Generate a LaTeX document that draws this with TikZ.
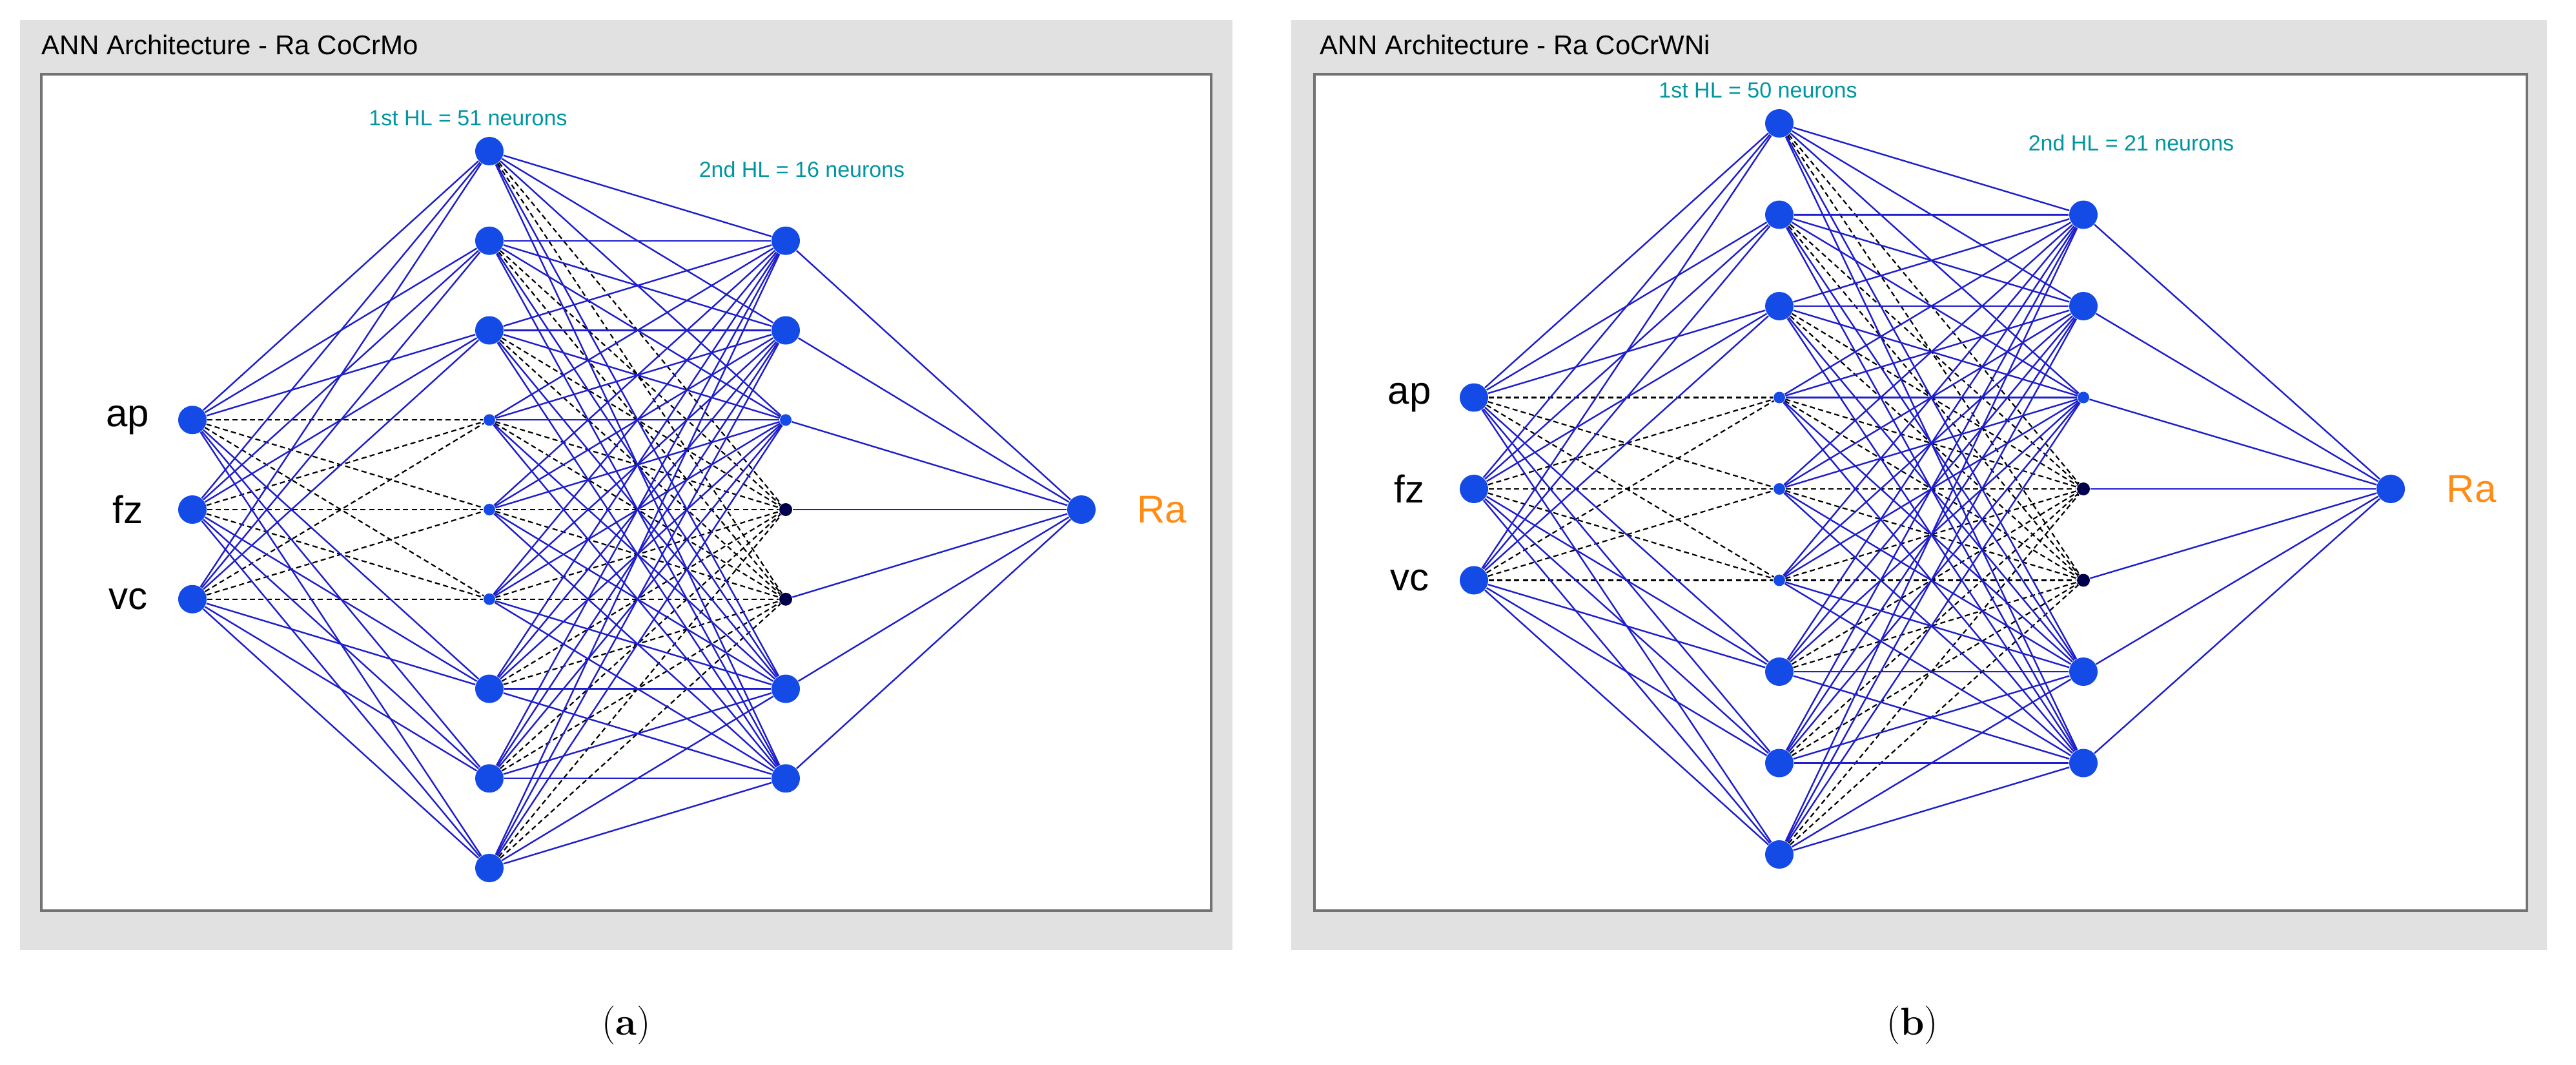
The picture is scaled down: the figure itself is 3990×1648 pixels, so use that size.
\documentclass[tikz,border=0pt]{standalone}
\usepackage{fontspec}
\setmainfont{Latin Modern Roman}
\newfontfamily\sans{Liberation Sans}
\begin{document}
\definecolor{panelgray}{RGB}{225,225,225}
\definecolor{nblue}{RGB}{20,75,230}
\definecolor{eblue}{RGB}{30,30,205}
\definecolor{hlcol}{RGB}{0,150,160}
\definecolor{racol}{RGB}{255,140,20}
\tikzset{
 big/.style={circle,fill=nblue,inner sep=0pt,minimum size=11pt},
 small/.style={circle,fill=nblue,inner sep=0pt,minimum size=4.5pt},
 dark/.style={circle,fill=black!70!blue,inner sep=0pt,minimum size=5pt},
 bl/.style={draw=eblue,line width=0.6pt},
 dsh/.style={draw=black,line width=0.55pt,dash pattern=on 2pt off 1.3pt},
 ttl/.style={font=\sans\fontsize{10.5}{13}\selectfont,anchor=west,inner sep=0pt},
 inl/.style={font=\sans\fontsize{15}{17}\selectfont,inner sep=0pt},
 hl/.style={font=\sans\fontsize{8.5}{10}\selectfont,text=hlcol,inner sep=0pt},
 ral/.style={font=\sans\fontsize{15}{17}\selectfont,text=racol,inner sep=0pt},
 captxt/.style={font=\fontsize{15}{17}\selectfont,inner sep=0pt}
}
\newcommand\annpanel{%
 \fill[panelgray] (\gx,31) rectangle (\gxx,1471);
 \draw[line width=1.2pt,draw=black!55,fill=white] (\wx,115) rectangle (\wxx,1410);
 \node[ttl] (\p T) at (\tx,69) {\ttl};
 \foreach \i in {0,1,2,6,7,8} \node[big] (\p L\i) at (\xa,{\yt+\i*\ys}) {};
 \foreach \i in {3,4,5} \node[small] (\p L\i) at (\xa,{\yt+\i*\ys}) {};
 \foreach \i in {1,2,6,7} \node[big] (\p M\i) at (\xb,{\yt+\i*\ys}) {};
 \node[small] (\p M3) at (\xb,{\yt+3*\ys}) {};
 \foreach \i in {4,5} \node[dark] (\p M\i) at (\xb,{\yt+\i*\ys}) {};
 \foreach \j in {0,1,2} {\pgfmathtruncatemacro\k{\j+3}
   \node[big] (\p I\j) at (\xi,{\yt+\k*\ys}) {};}
 \node[big] (\p O) at (\xo,{\yt+4*\ys}) {};
 \foreach \j in {0,1,2} \foreach \i in {3,4,5} \draw[dsh] (\p I\j) -- (\p L\i);
 \foreach \i in {0,...,8} \foreach \m in {4,5} \draw[dsh] (\p L\i) -- (\p M\m);
 \foreach \j in {0,1,2} \foreach \i in {0,1,2,6,7,8} \draw[bl] (\p I\j) -- (\p L\i);
 \foreach \i in {0,...,8} \foreach \m in {1,2,3,6,7} \draw[bl] (\p L\i) -- (\p M\m);
 \foreach \m in {1,...,7} \draw[bl] (\p M\m) -- (\p O);
 \node[inl] (\p ap) at (\xi-100,{\yt+3*\ys}) {ap};
 \node[inl] (\p fz) at (\xi-100,{\yt+4*\ys}) {fz};
 \node[inl] (\p vc) at (\xi-100,{\yt+5*\ys}) {vc};
 \node[ral] (\p Ra) at (\xo+125,{\yt+4*\ys}) {Ra};
}
\begin{tikzpicture}[x=0.25pt,y=-0.25pt]
\useasboundingbox (0,0) rectangle (3990,1648);
\fill[white] (0,0) rectangle (3990,1648);
% panel a
\def\p{a}\def\gx{31}\def\gxx{1909}\def\wx{64}\def\wxx{1876}\def\tx{64}
\def\ttl{ANN Architecture - Ra CoCrMo}
\def\xi{298}\def\xa{758}\def\xb{1217}\def\xo{1675}\def\yt{234}\def\ys{138.75}
\annpanel
\node[hl] (ah1) at (725,183) {1st HL = 51 neurons};
\node[hl] (ah2) at (1242,262) {2nd HL = 16 neurons};
% panel b
\def\p{b}\def\gx{2000}\def\gxx{3945}\def\wx{2036}\def\wxx{3914}\def\tx{2044}
\def\ttl{ANN Architecture - Ra CoCrWNi}
\def\xi{2283}\def\xa{2756}\def\xb{3227}\def\xo{3703}\def\yt{191}\def\ys{141.5}
\annpanel
\node[hl] (bh1) at (2723,140) {1st HL = 50 neurons};
\node[hl] (bh2) at (3301,221) {2nd HL = 21 neurons};
\node[captxt] (ca) at (970,1588) {(\textbf{a})};
\node[captxt] (cb) at (2962,1588) {(\textbf{b})};
\end{tikzpicture}
\end{document}
